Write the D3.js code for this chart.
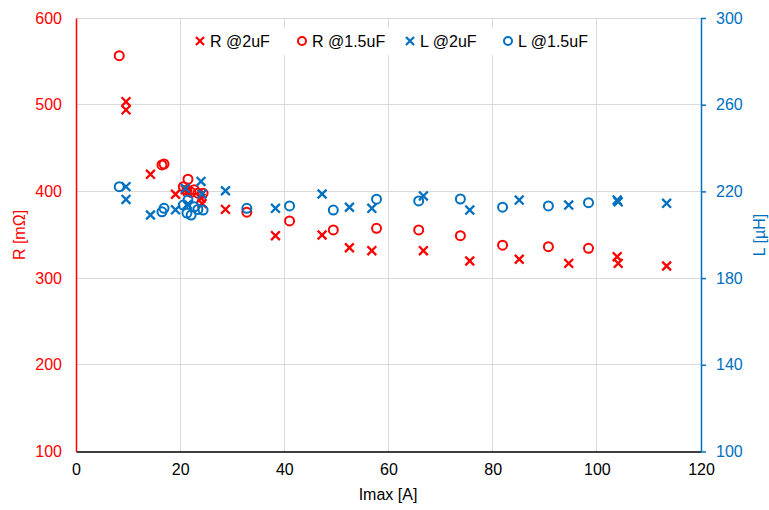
<!DOCTYPE html>
<html><head><meta charset="utf-8">
<script src="https://cdn.jsdelivr.net/npm/d3@7"></script>
<style>body{margin:0;background:#fff}svg{display:block}text{font-family:"Liberation Sans",Arial,sans-serif}</style>
</head><body><svg id="c" width="769" height="510"></svg>
<script>
const xTicks=[0,20,40,60,80,100,120];
const rTicks=[100,200,300,400,500,600];
const lTicks=[100,140,180,220,260,300];
const seriesNames=["R @2uF","R @1.5uF","L @2uF","L @1.5uF"];
const r2uF_x=[9.6,9.6,14.3,19.1,21.0,21.4,24.0,24.2,28.7,38.3,47.25,52.5,56.8,66.7,75.6,85.1,94.6,103.9,104.1,113.4];
const r2uF_y=[503.5,494,419.7,396.7,402,400,392,386,379.3,348.9,349.7,335,331.6,331.6,319.7,321.7,317,324.7,317,314];
const l2uF_x=[9.6,9.6,14.3,19.1,21.0,21.4,24.0,24.2,28.7,38.3,47.25,52.5,56.8,66.7,75.6,85.1,94.6,103.9,104.1,113.4];
const l2uF_y=[222.2,216.3,209.1,211.5,221.4,214,224.6,218.8,220.3,212.2,218.8,212.7,212.2,217.9,211.4,216.0,213.7,216.0,215.2,214.5];
const r15uF_x=[8.3,16.5,16.9,20.6,21.5,21.3,22.1,22.7,23.4,24.4,32.8,41.0,49.4,57.7,65.8,73.8,81.9,90.7,98.4];
const r15uF_y=[556.5,430.5,431.6,405.4,414,401.6,399,402,398,397.8,376,365.9,355.5,357.4,355.5,348.9,338,336.2,334.4];
const l15uF_x=[8.3,16.5,16.9,20.6,21.5,21.3,22.1,22.7,23.4,24.4,32.8,41.0,49.4,57.7,65.8,73.8,81.9,90.7,98.4];
const l15uF_y=[222.2,210.6,212.2,213.7,216.0,210.0,209.1,212.9,211.7,211.4,212.2,213.3,211.4,216.4,215.6,216.5,212.7,213.3,214.8];

const RED="#FF0000", BLUE="#0070C0";
const svg=d3.select("#c");
const L=76,Rr=701,T=18,B=451.5;
const x=d3.scaleLinear().domain([0,120]).range([L,Rr]);
const yR=d3.scaleLinear().domain([100,600]).range([B,T]);
const yL=d3.scaleLinear().domain([100,300]).range([B,T]);

// gridlines
svg.append("g").selectAll("line").data(xTicks.slice(1,-1)).join("line")
  .attr("x1",d=>x(d)).attr("x2",d=>x(d)).attr("y1",T).attr("y2",B)
  .attr("stroke","#d9d9d9").attr("stroke-width",1).attr("shape-rendering","crispEdges");
svg.append("g").selectAll("line").data(rTicks.slice(1)).join("line")
  .attr("x1",L).attr("x2",Rr).attr("y1",d=>yR(d)).attr("y2",d=>yR(d))
  .attr("stroke","#d9d9d9").attr("stroke-width",1).attr("shape-rendering","crispEdges");

// axes
const fs="16px";
const ax=svg.append("g").attr("transform",`translate(0,${B})`)
  .call(d3.axisBottom(x).tickValues(xTicks).tickSize(0).tickPadding(12));
ax.select(".domain").attr("stroke","#000").attr("stroke-width",1.5);
ax.selectAll("text").attr("font-size",fs).attr("fill","#000");

const ay=svg.append("g").attr("transform",`translate(${L},0)`)
  .call(d3.axisLeft(yR).tickValues(rTicks).tickSize(0).tickPadding(14));
ay.select(".domain").attr("stroke",RED).attr("stroke-width",1.5);
ay.selectAll("text").attr("font-size",fs).attr("fill",RED);

const ay2=svg.append("g").attr("transform",`translate(${Rr},0)`)
  .call(d3.axisRight(yL).tickValues(lTicks).tickSize(5).tickSizeOuter(0).tickPadding(10));
ay2.select(".domain").attr("stroke",BLUE).attr("stroke-width",1.5);
ay2.selectAll("line").attr("stroke",BLUE).attr("stroke-width",1.5);
ay2.selectAll("text").attr("font-size",fs).attr("fill",BLUE);

// titles
svg.append("text").attr("x",388).attr("y",500).attr("text-anchor","middle").attr("font-size",fs).attr("fill","#000").text("Imax [A]");
svg.append("text").attr("transform","translate(25,235) rotate(-90)").attr("text-anchor","middle").attr("font-size",fs).attr("fill",RED).text("R [mΩ]");
svg.append("text").attr("transform","translate(765,235) rotate(-90)").attr("text-anchor","middle").attr("font-size",fs).attr("fill",BLUE).text("L [µH]");

// markers
function cross(g,cx,cy,col,s){
  s=s||4.4;
  g.append("path").attr("d",`M${cx-s},${cy-s}L${cx+s},${cy+s}M${cx-s},${cy+s}L${cx+s},${cy-s}`)
   .attr("stroke",col).attr("stroke-width",2.3).attr("fill","none");
}
function circ(g,cx,cy,col,r){
  g.append("circle").attr("cx",cx).attr("cy",cy).attr("r",r||4.5).attr("fill","none").attr("stroke",col).attr("stroke-width",2);
}
const pts=svg.append("g");
r2uF_x.forEach((v,i)=>cross(pts,x(v),yR(r2uF_y[i]),RED));
r15uF_x.forEach((v,i)=>circ(pts,x(v),yR(r15uF_y[i]),RED));
l2uF_x.forEach((v,i)=>cross(pts,x(v),yL(l2uF_y[i]),BLUE));
l15uF_x.forEach((v,i)=>circ(pts,x(v),yL(l15uF_y[i]),BLUE));

// legend
const lg=svg.append("g");
lg.append("rect").attr("x",192).attr("y",28).attr("width",400).attr("height",27).attr("fill","#fff");
const lx=[200,302,410,508], kinds=["x","o","x","o"], cols=[RED,RED,BLUE,BLUE];
seriesNames.forEach((n,i)=>{
  if(kinds[i]==="x") cross(lg,lx[i],41,cols[i],4); else circ(lg,lx[i],41,cols[i],4);
  lg.append("text").attr("x",lx[i]+10).attr("y",47).attr("font-size",fs).attr("fill","#000").text(n);
});
</script></body></html>
